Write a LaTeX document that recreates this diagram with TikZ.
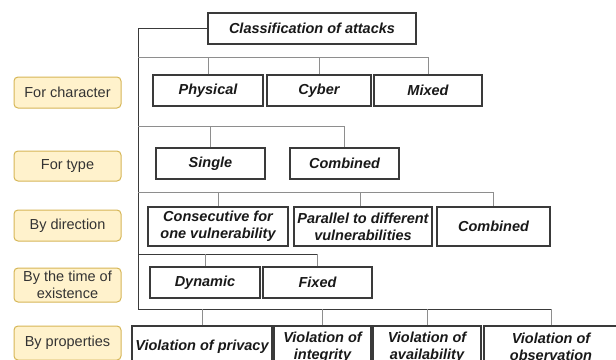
\documentclass[tikz,border=0pt]{standalone}
\usepackage{fontspec}
\setmainfont{Liberation Sans}
\definecolor{boxline}{HTML}{3A3A3A}
\definecolor{conn}{HTML}{8E8E8E}
\definecolor{labfill}{HTML}{FFF2CC}
\definecolor{labline}{HTML}{D6B656}
\definecolor{labtext}{HTML}{333333}
\tikzset{
  cbox/.style={draw=boxline, line width=1.3pt, fill=white, inner sep=1pt, align=center,
    font=\fontsize{14.5}{17}\selectfont\bfseries\itshape, text=black!90},
  lab/.style={draw=labline, fill=labfill, rounded corners=4pt, line width=1pt, align=center,
    font=\fontsize{14.5}{17}\selectfont, text=labtext, minimum width=107, inner sep=1pt},
  trunk/.style={draw=boxline, line width=1pt},
  branch/.style={draw=conn, line width=1pt},
}
\begin{document}
\begin{tikzpicture}[x=1pt,y=-1pt]
\useasboundingbox (0,0) rectangle (616,359);
\clip (0,0) rectangle (616,359);
% left labels
\node[lab, minimum height=31] (l1) at (67.5,92.5) {For character};
\node[lab, minimum height=30] (l2) at (67.5,166) {For type};
\node[lab, minimum height=31] (l3) at (67.5,225.5) {By direction};
\node[lab, minimum height=34] (l4) at (67.5,285) {By the time of\\existence};
\node[lab, minimum height=34] (l5) at (67.5,343) {By properties};
% coordinates on trunk
\coordinate (t1) at (138,57);
\coordinate (t2) at (138,126);
\coordinate (t3) at (138,192);
\coordinate (t4) at (138,254);
\coordinate (t5) at (138,309);
% boxes
\node[cbox, minimum width=208, minimum height=31] (top) at (312,28.5) {Classification of attacks};
\node[cbox, minimum width=110, minimum height=31] (phys) at (208,90.5) {Physical};
\node[cbox, minimum width=104, minimum height=31] (cyber) at (319,90.5) {Cyber};
\node[cbox, minimum width=108, minimum height=31] (mixed) at (428,90.5) {Mixed};
\node[cbox, minimum width=109, minimum height=31] (single) at (210.5,163.5) {Single};
\node[cbox, minimum width=109, minimum height=31] (combA) at (344.5,163.5) {Combined};
\node[cbox, minimum width=140, minimum height=39] (cons) at (218,226.5) {Consecutive for\\one vulnerability};
\node[cbox, minimum width=138, minimum height=39] (par) at (363,226.5) {Parallel to different\\vulnerabilities};
\node[cbox, minimum width=113, minimum height=39] (combB) at (493.5,226.5) {Combined};
\node[cbox, minimum width=110, minimum height=31] (dyn) at (205,282.5) {Dynamic};
\node[cbox, minimum width=109, minimum height=31] (fixed) at (317.5,282.5) {Fixed};
\node[cbox, minimum width=140, minimum height=42] (priv) at (202,347) {Violation of privacy};
\node[cbox, minimum width=97, minimum height=42] (integ) at (322.5,347) {Violation of\\integrity};
\node[cbox, minimum width=108, minimum height=42] (avail) at (427,347) {Violation of\\availability};
\node[cbox, minimum width=134, minimum height=42] (obs) at (551,347) {Violation of\\observation};
% connectors
\draw[trunk] (top.west) -| (t5) -- (t5 -| obs.north);
\draw[branch] (t1) -| (mixed.north);
\draw[branch] (phys.north) -- (phys.north |- t1);
\draw[branch] (cyber.north) -- (cyber.north |- t1);
\draw[branch] (t2) -| (combA.north);
\draw[branch] (single.north) -- (single.north |- t2);
\draw[branch] (t3) -| (combB.north);
\draw[branch] (cons.north) -- (cons.north |- t3);
\draw[branch] ([xshift=-3pt]par.north) -- ([xshift=-3pt]par.north |- t3);
\draw[trunk] (t4) -- (t4 -| fixed.north);
\draw[branch] (fixed.north) -- (fixed.north |- t4);
\draw[branch] (dyn.north) -- (dyn.north |- t4);
\foreach \n in {priv,integ,avail,obs} \draw[branch] (\n.north) -- (\n.north |- t5);
\end{tikzpicture}
\end{document}
